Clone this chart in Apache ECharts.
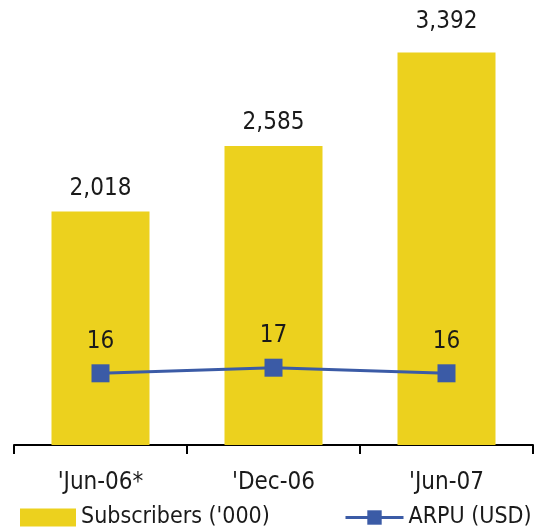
<!DOCTYPE html>
<html>
<head>
<meta charset="utf-8">
<script src="https://cdn.jsdelivr.net/npm/echarts@6/dist/echarts.min.js"></script>
<style>
  html, body { margin: 0; padding: 0; background: #fff; }
  #chart { width: 542px; height: 532px; }
</style>
</head>
<body>
<div id="chart"></div>
<script>
const periods = ["'Jun-06*", "'Dec-06", "'Jun-07"]
const subscribers = [2018, 2585, 3392]
const arpu = [16, 17, 16]

const font = "'DejaVu Sans Condensed', 'Liberation Sans Narrow', 'Liberation Sans', sans-serif"
const textColor = '#1a1a1a'
const yellow = '#ecd11e'
const blue = '#3b5ba6'

const chart = echarts.init(document.getElementById('chart'))

// last label sits a little higher in the original
const barData = subscribers.map((v, i) => (i === subscribers.length - 1 ? { value: v, label: { distance: 19 } } : v))

chart.setOption({
  animation: false,
  textStyle: { fontFamily: font },
  grid: { left: 14, right: 9, top: 40, bottom: 87 },
  legend: [
    {
      left: 20, bottom: 3, padding: 0,
      itemWidth: 56, itemHeight: 18,
      textStyle: { fontFamily: font, fontSize: 23, color: textColor },
      data: [{ name: "Subscribers ('000)", icon: 'rect' }],
    },
    {
      left: 344, bottom: 3, padding: 0,
      itemWidth: 58, itemHeight: 18,
      lineStyle: { width: 3 },
      textStyle: { fontFamily: font, fontSize: 23, color: textColor },
      data: ['ARPU (USD)'],
    },
  ],
  xAxis: {
    type: 'category',
    data: periods,
    axisLine: { lineStyle: { color: '#000', width: 2 } },
    axisTick: { show: true, length: 9, lineStyle: { color: '#000', width: 2 } },
    axisLabel: { fontFamily: font, fontSize: 24, color: textColor, margin: 26 },
  },
  yAxis: [
    { type: 'value', min: 0, max: 3500, show: false },
    { type: 'value', min: 3.2, max: 75.5, show: false },
  ],
  series: [
    {
      name: "Subscribers ('000)",
      type: 'bar',
      data: barData,
      barWidth: 98,
      itemStyle: { color: yellow },
      label: {
        show: true, position: 'top', distance: 11,
        fontFamily: font, fontSize: 24, color: textColor,
        formatter: (p) => p.value.toLocaleString('en-US'),
      },
    },
    {
      name: 'ARPU (USD)',
      type: 'line',
      yAxisIndex: 1,
      data: arpu,
      symbol: 'rect',
      symbolSize: 18,
      lineStyle: { color: blue, width: 3 },
      itemStyle: { color: blue },
      label: {
        show: true, position: 'top', distance: 11,
        fontFamily: font, fontSize: 24, color: textColor,
      },
    },
  ],
})
</script>
</body>
</html>
